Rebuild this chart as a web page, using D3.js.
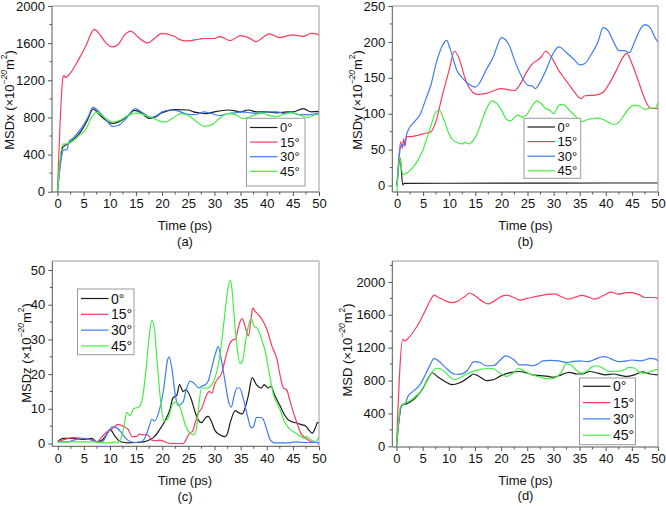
<!DOCTYPE html>
<html><head><meta charset="utf-8">
<script src="https://cdn.jsdelivr.net/npm/d3@7"></script>
<style>
body{margin:0;background:#fff;}
svg{display:block;font-family:"Liberation Sans",Arial,sans-serif;}
</style></head>
<body><svg id="c" width="666" height="506"></svg>
<script>
// ---------------- data ----------------
const seriesNames = ["0°", "15°", "30°", "45°"];
const seriesColors = ["#1c1c1c", "#ff3a5c", "#3d7cf2", "#44ee44"];
const xTicks = [0,5,10,15,20,25,30,35,40,45,50];

// (a) MSDx
const msdx_0 = [[0,0],[1,480],[1.5,500],[3,560],[4.5,650],[5.8,780],[6.8,893],[8,830],[9.5,760],[10.5,735],[12,760],[13.5,820],[14.7,875],[16,850],[17.5,790],[18.5,800],[20,850],[21,870],[22.5,885],[25,880],[26,860],[27,850],[28.5,840],[30,860],[32.5,880],[34,870],[35,860],[36.5,880],[38,860],[40,860],[42,850],[44,860],[45,860],[47,895],[48.5,860],[50,865]];
const msdx_15 = [[0,0],[1.1,1240],[1.3,1250],[1.5,1230],[2.5,1280],[4,1420],[5.5,1580],[6.5,1710],[7,1748],[8,1700],[9.3,1600],[10.5,1560],[11.5,1580],[13,1700],[14,1730],[15.5,1660],[17.3,1602],[18.5,1650],[20,1705],[22,1680],[24,1628],[25,1625],[27,1642],[28,1650],[30,1650],[31,1670],[33,1628],[35,1680],[36.5,1660],[38,1615],[39,1650],[40.5,1700],[42.5,1660],[45,1690],[47,1673],[48.5,1706],[50,1692]];
const msdx_30 = [[0,0],[1.2,450],[1.8,452],[2.2,540],[3,580],[4.5,680],[5.8,800],[6.8,908],[8,860],[9.5,760],[10.5,703],[11.5,710],[13,780],[14.9,894],[16,860],[18,800],[19,820],[20,860],[21.5,880],[23,870],[24.5,840],[26,830],[27,840],[28,860],[29.5,840],[31,820],[32.5,840],[34,850],[35,860],[37,850],[38.5,840],[40,860],[42,860],[43.5,840],[44.5,860],[46,830],[48,830],[50,850]];
const msdx_45 = [[0,0],[1,512],[2,520],[3,550],[4,600],[5.5,680],[6.5,800],[7.5,856],[8.5,820],[9.5,780],[10.5,750],[12,770],[13.5,820],[15,846],[16.5,830],[18,800],[19.5,760],[20.5,750],[22,790],[23.5,840],[25,820],[26.5,760],[28,705],[29.5,720],[31,790],[32.5,840],[34,830],[35.5,787],[37,810],[39,850],[40.5,820],[42,810],[43.5,840],[45,850],[47,810],[48,800],[49.5,830],[50,830]];

// (b) MSDy
const msdy_0 = [[0,0],[0.6,38],[1.1,1],[1.4,3],[10,3.2],[20,3.3],[30,3.4],[40,3.5],[50,3.5]];
const msdy_15 = [[0,0],[0.7,61],[1.0,52],[1.3,65],[1.5,55],[1.8,68],[2.5,68],[4,70],[5,72],[6.5,75],[7.5,90],[8.5,120],[10,161],[11,187],[12,175],[13,150],[14.5,130],[15.5,127],[17,128],[18.5,132],[20,135],[21,134],[22.5,132],[23.5,140],[25,160],[26,170],[27,175],[27.5,178],[28.5,187],[29.5,180],[31,160],[32,150],[33,140],[34,130],[35.3,121],[36,125],[38,126],[39.5,130],[40.5,140],[42,160],[43,175],[44,184],[45,170],[46.5,140],[47.5,120],[48.5,108],[50,107]];
const msdy_30 = [[0,0],[0.5,45],[0.8,57],[1.5,56],[1.8,70],[2.2,78],[3.5,90],[4.5,100],[5.5,120],[6.5,140],[7.5,170],[8.7,195],[9.5,202],[10.2,190],[11.5,160],[12.5,150],[14,140],[15,137],[16,145],[17,160],[18.5,180],[19.5,200],[20,206],[21.5,195],[22.5,175],[24,150],[25,140],[26,138],[26.5,135],[27.5,145],[28.5,160],[30,185],[31,193],[32.5,185],[34,175],[35,168],[36,170],[37,180],[38.5,200],[39.5,220],[40.5,215],[41.5,200],[42.5,188],[43.5,188],[44.5,185],[45.5,200],[46.8,220],[47.5,224],[48.5,220],[49.5,205],[50,200]];
const msdy_45 = [[0,-9],[0.5,40],[1.1,15],[2,18],[3,25],[4,35],[5,50],[6,72],[6.8,90],[7.5,103],[8.1,105],[8.8,95],[9.8,75],[10.5,65],[11.5,60],[12.5,58],[13,60],[13.8,58],[14.8,65],[15.5,75],[16.5,95],[17.5,112],[18.2,118],[19,115],[20,105],[21,92],[21.8,90],[22.5,95],[23.3,98],[24,95],[25,100],[26,112],[26.8,118],[27.5,115],[28.5,107],[29.3,105],[30,100],[30.5,105],[31,112],[31.8,113],[33,105],[34,98],[35.5,89],[36.5,92],[37.5,93],[38.5,94],[39.5,92],[40.5,88],[41.5,85],[42.5,88],[43.5,98],[44.5,108],[45.5,112],[46.5,110],[47.5,106],[48.5,108],[49.5,108],[50,116]];

// (c) MSDz
const msdz_0 = [[0,0.5],[1,1.5],[3,1.5],[5,1.2],[6.5,1.5],[7.5,0.5],[8.5,1],[9.3,2.5],[10,4],[11,2],[12,0.5],[13.5,0.2],[15,0.3],[16.5,0.5],[17.5,1],[18.5,2],[19.5,4],[20.5,6.5],[21.5,10],[22,13],[22.8,14],[23.3,17],[24,15],[24.5,15.5],[25.5,13],[26.3,9],[27,6.5],[27.5,6],[28.3,7.5],[28.8,7.8],[29.5,6],[30,4],[31,2.5],[32,2],[32.5,3],[33,6],[34,9.5],[34.5,9],[35.3,8.5],[35.8,10],[36.5,14],[37.2,19],[38,17],[39,16],[39.5,17],[40.3,16],[40.8,16.5],[41.5,14],[42.5,11],[43.5,8],[44,7],[44.5,6.5],[45.5,6],[46.5,5.5],[47.5,5],[48,4],[48.7,3],[49.3,4.5],[49.7,6],[50,6]];
const msdz_15 = [[0,0.5],[1,1],[2,1.5],[3,1.7],[4.5,1.5],[6,1.2],[7,1],[7.5,0.5],[8.5,2],[9.5,3.5],[10.2,4],[11,5],[11.5,5.5],[12.5,5],[13.5,4],[14.2,2],[15,2],[15.7,2.7],[16.3,2.5],[17.2,2.5],[18,1],[19,0.8],[19.5,1],[20.5,0.5],[21.5,0],[23,0],[24,0],[24.5,1],[25.2,3],[25.8,3.5],[26.3,6],[27,9],[27.5,10],[28.5,14],[29,15],[29.5,14.5],[30,17],[30.8,19],[31.3,20],[32,24],[33,29],[33.8,30],[34,30],[34.5,33],[35,35.5],[35.3,36],[36,33],[36.5,31],[37,36],[37.3,39],[37.8,38],[38.5,37],[39,36],[40,33],[41,28],[42,24],[42.5,20],[43.2,16],[43.8,15.5],[44.5,12],[45.3,8],[46,5],[46.5,3],[47.5,1.5],[48.5,0.5],[49.5,0.3],[50,0]];
const msdz_30 = [[0,0.5],[2,0.5],[3,1],[5,1.5],[6.5,1],[7.5,0.5],[8.5,0.5],[9.5,3],[10.5,4.8],[11.3,4.5],[12,3.5],[13,1.5],[14,0.5],[15,0.3],[16,0.5],[16.8,2],[17.5,5],[18,7],[18.5,6.5],[19.5,10],[20.3,16],[21,24],[21.3,25],[21.8,22],[22.5,14],[23,11],[24,12],[24.5,15],[25.3,18],[26,17.5],[27,16],[27.5,16.5],[28.3,17],[28.8,18],[29.5,22],[30.2,26],[30.7,28],[31.2,25],[32,18],[32.7,12],[33.2,10.5],[33.8,14],[34.3,16],[34.8,16],[35.5,13],[36.3,8],[37,4.5],[37.5,5],[38,7.5],[38.8,7.5],[39.3,7],[40,4],[40.7,1],[41.5,0.2],[44,0.2],[45.5,0.5],[47,0.3],[50,0.3]];
const msdz_45 = [[0,0.5],[5,0.5],[7,0.5],[8.5,0.2],[10,0.2],[11,0.5],[11.5,0.2],[12.2,2],[12.7,5],[13.2,9],[13.8,8],[14.5,10],[15.5,10.5],[16.2,13],[16.8,20],[17.5,31],[18,35.5],[18.5,33],[19,24],[19.7,12],[20.3,6.5],[21,7],[21.5,9],[22,11.5],[22.7,12],[23.5,10],[24.5,5],[25.3,3],[26,2.5],[26.5,4],[27,11],[27.5,16],[28.5,16],[29.5,17],[30.3,20],[31,25],[31.8,35],[32.5,44],[33,47],[33.3,45],[33.8,36],[34.3,28],[34.9,23],[35.4,24],[36,30],[36.5,34],[37,36],[37.5,34],[38.3,33],[39,30],[39.8,26],[40.5,20],[41.3,14],[42.5,10],[43.5,6],[44.5,4],[45.5,3],[46.5,2],[47.2,1.5],[47.5,2],[48.5,1],[49.3,0.5],[50,2]];

// (d) MSD
const msd_0 = [[0,0],[1,500],[2,520],[3.5,580],[5,700],[6,820],[6.8,895],[8,840],[9.5,780],[10.5,750],[12,770],[14,850],[14.7,880],[15.8,850],[17.2,800],[18.5,810],[20,860],[22,900],[23.5,910],[24.5,900],[26,870],[27.5,860],[29,850],[30,840],[31.5,870],[33,900],[34.5,880],[35.5,880],[37,910],[38.5,890],[40,870],[41.5,880],[43,860],[44,850],[45.5,870],[47,905],[48.5,880],[50,870]];
const msd_15 = [[0,0],[1.2,1300],[1.6,1280],[2,1300],[3.3,1400],[4.3,1500],[5.5,1650],[6.5,1780],[7.2,1840],[7.8,1820],[9,1780],[10.5,1748],[11.5,1760],[13,1820],[14,1865],[15,1830],[16.5,1760],[17.5,1732],[18.5,1760],[20.3,1830],[21,1840],[22.5,1810],[23.7,1778],[25,1800],[26.5,1820],[28,1840],[29.5,1850],[30.3,1855],[31.5,1820],[32.8,1790],[34,1810],[35.5,1835],[36.5,1820],[37.8,1790],[38.5,1800],[40,1850],[41,1875],[42.5,1850],[44,1870],[45,1870],[46.5,1840],[47.5,1810],[49,1810],[50,1800]];
const msd_30 = [[0,0],[1,500],[1.5,510],[2.3,620],[3,660],[4.5,750],[5.5,870],[6.5,1000],[7.2,1070],[8,1040],[9.5,950],[11,880],[12,875],[13.5,920],[14.8,1030],[16,1020],[17,980],[18.5,980],[19.7,1040],[20.8,1100],[21.5,1090],[22.5,1050],[23.5,990],[25,990],[26,980],[27,1000],[28,1040],[29.5,1045],[31,1040],[32.5,1020],[33.5,1030],[35,1040],[36.5,1030],[38,1060],[39.5,1090],[40.5,1080],[41.5,1050],[42.5,1030],[44,1040],[45,1050],[46.5,1040],[47.5,1050],[48.5,1070],[49.5,1060],[50,1040]];
const msd_45 = [[0,0],[0.8,490],[1.5,520],[2.5,550],[3.5,600],[4.5,660],[5.5,760],[6.5,870],[7.3,940],[8,950],[9,920],[10.3,840],[11,810],[12,830],[13.5,880],[15,920],[16.5,940],[17.5,950],[18.5,945],[20,880],[21,850],[22.5,900],[23.3,950],[24,930],[25.5,880],[27,850],[28,830],[29.5,820],[30.5,840],[31.5,900],[32.5,1005],[33.5,980],[34.5,920],[35.5,890],[36.5,920],[37.5,970],[38.2,980],[39.5,950],[40.5,910],[42,910],[43.5,930],[44.5,960],[45.5,950],[46.5,900],[47.5,890],[48.5,910],[49.5,930],[50,940]];

const yTicksA = [0,400,800,1200,1600,2000];
const yTicksB = [0,50,100,150,200,250];
const yTicksC = [0,10,20,30,40,50];
const yTicksD = [0,400,800,1200,1600,2000];

// ---------------- layout ----------------
const panels = [
  {series:[msdx_0,msdx_15,msdx_30,msdx_45], yTicks:yTicksA, yMinor:200, yName:"MSDx", tag:"(a)",
   x0:52, x1:319, y0:6, y1:192, xDom:[-1.05,50], yDom:[-3,2000],
   yLabX:8.5, yLabY:100, tx:185, tyTime:225.5, tyTag:241,
   leg:{x:246.5, y:118.3, w:58.5, h:67.7, r0:127.5, dr:14.6, fs:13}},
  {series:[msdy_0,msdy_15,msdy_30,msdy_45], yTicks:yTicksB, yMinor:25, yName:"MSDy", tag:"(b)",
   x0:392.3, x1:658, y0:6, y1:192, xDom:[-0.9,50], yDom:[-9,250],
   yLabX:356.5, yLabY:100, tx:525.5, tyTime:225.5, tyTag:241,
   leg:{x:524, y:118.3, w:56.7, h:60, r0:127, dr:14.6, fs:13}},
  {series:[msdz_0,msdz_15,msdz_30,msdz_45], yTicks:yTicksC, yMinor:5, yName:"MSDz", tag:"(c)",
   x0:52.3, x1:319, y0:261, y1:446.3, xDom:[-1.05,50], yDom:[-0.8,52.6],
   yLabX:25.5, yLabY:353, tx:185, tyTime:480.5, tyTag:496,
   leg:{x:77.5, y:289, w:56.5, h:65.7, r0:298.5, dr:15.8, fs:14}},
  {series:[msd_0,msd_15,msd_30,msd_45], yTicks:yTicksD, yMinor:200, yName:"MSD", tag:"(d)",
   x0:392.3, x1:658, y0:261, y1:447, xDom:[-0.8,50], yDom:[-8,2254],
   yLabX:347, yLabY:350, tx:525.5, tyTime:480, tyTag:495,
   leg:{x:579.5, y:378, w:56, h:66.7, r0:386.3, dr:16.3, fs:14}}
];

const svg = d3.select("#c");
const FS = 13;
const fmt = d3.format("d");

panels.forEach(p => {
  const x = d3.scaleLinear().domain(p.xDom).range([p.x0, p.x1]);
  const y = d3.scaleLinear().domain(p.yDom).range([p.y1, p.y0]);
  const g = svg.append("g");

  const cid = "clip" + p.tag.replace(/[()]/g,"");
  svg.append("clipPath").attr("id", cid).append("rect")
    .attr("x", p.x0).attr("y", p.y0).attr("width", p.x1-p.x0).attr("height", p.y1-p.y0);

  const line = d3.line().x(d=>x(d[0])).y(d=>y(d[1])).curve(d3.curveMonotoneX);
  const lg = g.append("g").attr("clip-path", `url(#${cid})`);
  p.series.forEach((s,i) => {
    lg.append("path").attr("d", line(s)).attr("fill","none")
      .attr("stroke", seriesColors[i]).attr("stroke-width", 1.2);
  });

  g.append("line").attr("x1",p.x0).attr("x2",p.x1).attr("y1",p.y0).attr("y2",p.y0).attr("stroke","#9a9a9a").attr("stroke-width",1);
  g.append("line").attr("x1",p.x1).attr("x2",p.x1).attr("y1",p.y0).attr("y2",p.y1).attr("stroke","#9a9a9a").attr("stroke-width",1);

  // x axis
  const xMinor = d3.range(2.5, 50, 5);
  const xa = g.append("g").attr("transform",`translate(0,${p.y1})`)
    .call(d3.axisBottom(x).tickValues(xTicks).tickFormat(fmt).tickSize(4).tickPadding(3).tickSizeOuter(0));
  xa.selectAll("text").attr("font-size",FS).attr("font-family","Liberation Sans, Arial").attr("fill","#111");
  xa.select(".domain").attr("stroke","#555").attr("d",`M${p.x0},0H${p.x1}`);
  xa.selectAll(".tick line").attr("stroke","#555");
  g.append("g").attr("transform",`translate(0,${p.y1})`).selectAll("line").data(xMinor).join("line")
    .attr("x1",d=>x(d)).attr("x2",d=>x(d)).attr("y1",0).attr("y2",2.5).attr("stroke","#555");

  // y axis
  const yMinorVals = d3.range(p.yMinor, p.yDom[1], p.yMinor*2);
  const ya = g.append("g").attr("transform",`translate(${p.x0},0)`)
    .call(d3.axisLeft(y).tickValues(p.yTicks).tickFormat(fmt).tickSize(4).tickPadding(3).tickSizeOuter(0));
  ya.selectAll("text").attr("font-size",FS).attr("font-family","Liberation Sans, Arial").attr("fill","#111");
  ya.select(".domain").attr("stroke","#555").attr("d",`M0,${p.y1}V${p.y0}`);
  ya.selectAll(".tick line").attr("stroke","#555");
  g.append("g").attr("transform",`translate(${p.x0},0)`).selectAll("line").data(yMinorVals).join("line")
    .attr("x1",0).attr("x2",-2.5).attr("y1",d=>y(d)).attr("y2",d=>y(d)).attr("stroke","#555");

  // y label
  const yl = g.append("text").attr("transform",`translate(${p.yLabX},${p.yLabY}) rotate(-90)`)
    .attr("text-anchor","middle").attr("dominant-baseline","central")
    .attr("font-size",FS).attr("fill","#111");
  yl.append("tspan").text(p.yName + " (×10");
  yl.append("tspan").text("−20").attr("font-size",8.5).attr("dy",-5).attr("font-style","italic");
  yl.append("tspan").text("m").attr("dy",5);
  yl.append("tspan").text("2").attr("font-size",8.5).attr("dy",-5);
  yl.append("tspan").text(")").attr("dy",5);

  g.append("text").attr("x",p.tx).attr("y",p.tyTime).attr("text-anchor","middle").attr("dominant-baseline","central")
    .attr("font-size",FS).attr("fill","#111").text("Time (ps)");
  g.append("text").attr("x",p.tx).attr("y",p.tyTag).attr("text-anchor","middle").attr("dominant-baseline","central")
    .attr("font-size",FS).attr("fill","#111").text(p.tag);

  // legend
  const L = p.leg;
  g.append("rect").attr("x",L.x).attr("y",L.y).attr("width",L.w).attr("height",L.h)
    .attr("fill","#fff").attr("stroke","#9a9a9a").attr("stroke-width",1);
  seriesNames.forEach((n,i) => {
    const ry = L.r0 + i*L.dr;
    g.append("line").attr("x1",L.x+3.5).attr("x2",L.x+31).attr("y1",ry).attr("y2",ry)
      .attr("stroke",seriesColors[i]).attr("stroke-width",1.2);
    g.append("text").attr("x",L.x+33.5).attr("y",ry).attr("dominant-baseline","central")
      .attr("font-size",L.fs).attr("fill","#111").text(n);
  });
});
</script></body></html>
